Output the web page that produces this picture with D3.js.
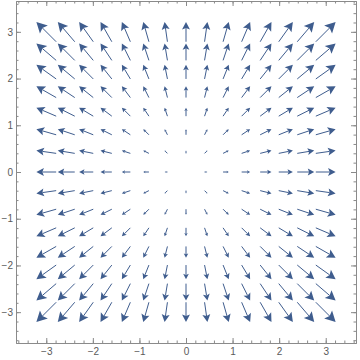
<!DOCTYPE html>
<html>
<head>
<meta charset="utf-8">
<script src="https://cdn.jsdelivr.net/npm/d3@7"></script>
<style>
  body { margin: 0; background: #fff; }
  text { font-family: "Liberation Sans", "DejaVu Sans", sans-serif; }
</style>
</head>
<body>
<div id="plot"></div>
<script>
// sample points along each axis (15 x 15 grid)
var gridValues = [-3, -2.571, -2.143, -1.714, -1.286, -0.857, -0.429, 0,
                  0.429, 0.857, 1.286, 1.714, 2.143, 2.571, 3];
var majorTicks = [-3, -2, -1, 0, 1, 2, 3];
var tickLabels = ["\u22123", "\u22122", "\u22121", "0", "1", "2", "3"];

var svgWidth = 360;
var svgHeight = 360;

var svg = d3.select("#plot")
  .append("svg")
  .attr("width", svgWidth)
  .attr("height", svgHeight);

var xScale = d3.scaleLinear().domain([-3.65, 3.65]).range([16, 356]);
var yScale = d3.scaleLinear().domain([-3.66, 3.66]).range([343, 1]);

// vector field F(x, y) = (x, y)
var vectors = [];
gridValues.forEach(function(gx) {
  gridValues.forEach(function(gy) {
    vectors.push({x: gx, y: gy, u: gx, v: gy});
  });
});

var lenScale = 6.6; // pixels per unit of magnitude
var color = "#3f5d8e";

var arrows = svg.append("g");

vectors.forEach(function(d) {
  var mag = Math.sqrt(d.u * d.u + d.v * d.v);
  if (mag === 0) return;
  var L = mag * lenScale;
  var cx = xScale(d.x), cy = yScale(d.y);
  var dx = d.u / mag, dy = -d.v / mag;
  var tx = cx + dx * L / 2, ty = cy + dy * L / 2;
  var bx = cx - dx * L / 2, by = cy - dy * L / 2;
  var h = 0.38 * L, w = 0.2 * L;
  var px = -dy, py = dx;
  var hx = tx - dx * h, hy = ty - dy * h;
  var nx = tx - dx * h * 0.8, ny = ty - dy * h * 0.8;

  arrows.append("line")
    .attr("x1", bx).attr("y1", by)
    .attr("x2", nx).attr("y2", ny)
    .attr("stroke", color)
    .attr("stroke-width", 1);

  arrows.append("path")
    .attr("d", "M" + tx + "," + ty +
      "L" + (hx + px * w) + "," + (hy + py * w) +
      "L" + nx + "," + ny +
      "L" + (hx - px * w) + "," + (hy - py * w) + "Z")
    .attr("fill", color);
});

// frame with inward ticks
var minorTicks = d3.range(-36, 37, 2).map(function(v) { return v / 10; });

var frameColor = "#8a8a8a";

function drawAxis(axis, scale, pos, showLabels, pad) {
  var g = svg.append("g")
    .attr("transform", pos)
    .call(axis(scale).tickValues(minorTicks).tickSize(-2.5).tickFormat(""));
  g.select(".domain").attr("stroke", frameColor);
  g.selectAll(".tick line").attr("stroke", frameColor);

  var g2 = svg.append("g")
    .attr("transform", pos)
    .call(axis(scale).tickValues(majorTicks).tickSize(-5).tickPadding(pad)
      .tickFormat(function(d, i) { return showLabels ? tickLabels[i] : ""; }));
  g2.select(".domain").remove();
  g2.selectAll(".tick line").attr("stroke", frameColor);
  g2.selectAll("text").attr("fill", "#5a5a5a").attr("font-size", "10px");
}

drawAxis(d3.axisBottom, xScale, "translate(0,343)", true, 5);
drawAxis(d3.axisTop, xScale, "translate(0,1)", false, 3);
drawAxis(d3.axisLeft, yScale, "translate(16,0)", true, 3);
drawAxis(d3.axisRight, yScale, "translate(356,0)", false, 3);
</script>
</body>
</html>
